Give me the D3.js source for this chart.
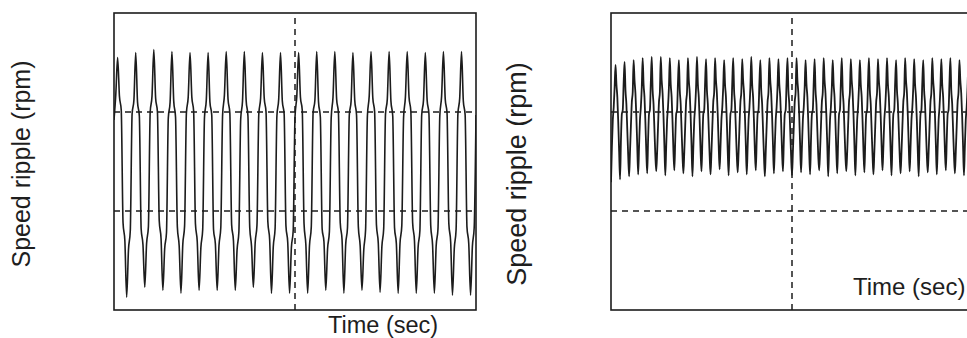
<!DOCTYPE html>
<html>
<head>
<meta charset="utf-8">
<script src="https://cdn.jsdelivr.net/npm/d3@7"></script>
<style>
  html, body { margin: 0; padding: 0; background: #fff; }
  svg { display: block; }
  text { font-family: "Liberation Sans", Arial, Helvetica, sans-serif; fill: #1e1e1e; }
</style>
</head>
<body>
<script>
// ---------------- DATA ----------------
// Time axis (ms) shared by both panels
const timeDomainMs = [0, 200];
const timeGridMs = [100];
// Speed ripple axis (rpm)
const rippleDomain = [-15, 15];
const rippleGrid = [-5, 5];

const xLabel = "Time (sec)";
const yLabel = "Speed ripple (rpm)";

// Left panel: sampled every 1 ms (one row = one 10 ms ripple cycle)
const leftStepMs = 1;
const leftRipple = [
  4.2, 6.8, 10.5, 6.6, 5.2, -6.2, -8.0, -13.7, -8.9, -7.0,
  4.8, 6.2, 11.0, 6.0, 4.6, -6.8, -8.4, -12.7, -8.3, -6.6,
  5.0, 6.6, 11.3, 6.4, 5.0, -6.0, -7.8, -13.0, -8.8, -7.2,
  4.4, 6.0, 11.1, 6.1, 4.5, -6.6, -8.5, -13.3, -8.4, -6.5,
  4.9, 6.5, 11.0, 6.5, 5.1, -6.3, -8.1, -13.0, -8.7, -6.9,
  4.5, 6.2, 11.0, 6.0, 4.7, -6.9, -8.3, -13.0, -8.5, -6.7,
  4.7, 6.7, 11.1, 6.3, 4.9, -6.4, -8.0, -13.0, -8.9, -7.1,
  4.3, 6.1, 11.1, 6.2, 4.6, -6.7, -8.6, -12.7, -8.2, -6.4,
  4.8, 6.4, 11.0, 6.4, 5.0, -6.1, -7.9, -13.3, -8.6, -6.8,
  4.6, 6.3, 11.0, 6.1, 4.8, -6.5, -8.2, -13.3, -8.7, -7.0,
  4.5, 6.6, 11.0, 6.5, 5.2, -6.3, -8.4, -13.3, -8.5, -6.6,
  4.9, 6.2, 11.1, 6.0, 4.5, -6.8, -8.1, -13.0, -8.8, -7.1,
  4.4, 6.5, 11.1, 6.3, 4.9, -6.2, -7.9, -13.3, -8.4, -6.7,
  4.7, 6.1, 11.0, 6.2, 4.7, -6.6, -8.5, -13.0, -8.9, -6.9,
  4.6, 6.6, 11.1, 6.4, 5.0, -6.4, -8.2, -13.2, -8.6, -6.8,
  4.8, 6.3, 11.1, 6.1, 4.6, -6.7, -8.3, -13.3, -8.3, -6.5,
  4.5, 6.5, 11.1, 6.5, 5.1, -6.2, -8.0, -13.3, -8.7, -7.0,
  4.7, 6.2, 11.0, 6.2, 4.8, -6.5, -8.4, -13.3, -8.5, -6.8,
  4.6, 6.6, 11.1, 6.3, 4.9, -6.3, -8.1, -13.5, -8.8, -6.9,
  4.8, 6.4, 11.1, 6.1, 4.7, -6.6, -8.3, -13.5, -8.6, -6.7,
  4.7
];

// Right panel: sampled every 0.5 ms (one row = one 5 ms ripple cycle)
const rightStepMs = 0.5;
const rightRipple = [
  -2.1, 1.5, 4.2, 5.5, 7.5, 9.75, 7.8, 6.5, 4.0, 1.0,
  -1.8, 2.2, 4.8, 5.2, 8.0, 10.05, 7.2, 5.8, 3.2, 0.6,
  -1.5, 1.0, 3.6, 6.0, 7.0, 10.25, 8.2, 6.9, 4.6, 1.6,
  -1.3, 1.5, 4.2, 5.5, 7.5, 10.45, 7.8, 6.5, 4.0, 1.0,
  -1.2, 2.2, 4.8, 5.2, 8.0, 10.56, 7.2, 5.8, 3.2, 0.6,
  -1.0, 1.0, 3.6, 6.0, 7.0, 10.56, 8.2, 6.9, 4.6, 1.6,
  -1.4, 1.5, 4.2, 5.5, 7.5, 10.45, 7.8, 6.5, 4.0, 1.0,
  -0.9, 2.2, 4.8, 5.2, 8.0, 10.25, 7.2, 5.8, 3.2, 0.6,
  -1.2, 1.0, 3.6, 6.0, 7.0, 10.45, 8.2, 6.9, 4.6, 1.6,
  -1.5, 1.5, 4.2, 5.5, 7.5, 10.56, 7.8, 6.5, 4.0, 1.0,
  -1.0, 2.2, 4.8, 5.2, 8.0, 10.35, 7.2, 5.8, 3.2, 0.6,
  -1.3, 1.0, 3.6, 6.0, 7.0, 10.45, 8.2, 6.9, 4.6, 1.6,
  -0.8, 1.5, 4.2, 5.5, 7.5, 10.25, 7.8, 6.5, 4.0, 1.0,
  -1.4, 2.2, 4.8, 5.2, 8.0, 10.45, 7.2, 5.8, 3.2, 0.6,
  -1.1, 1.0, 3.6, 6.0, 7.0, 10.35, 8.2, 6.9, 4.6, 1.6,
  -1.3, 1.5, 4.2, 5.5, 7.5, 10.56, 7.8, 6.5, 4.0, 1.0,
  -0.9, 2.2, 4.8, 5.2, 8.0, 10.25, 7.2, 5.8, 3.2, 0.6,
  -1.5, 1.0, 3.6, 6.0, 7.0, 10.45, 8.2, 6.9, 4.6, 1.6,
  -1.2, 1.5, 4.2, 5.5, 7.5, 10.35, 7.8, 6.5, 4.0, 1.0,
  -1.0, 2.2, 4.8, 5.2, 8.0, 10.45, 7.2, 5.8, 3.2, 0.6,
  -1.4, 1.0, 3.6, 6.0, 7.0, 10.45, 8.2, 6.9, 4.6, 1.6,
  -1.1, 1.5, 4.2, 5.5, 7.5, 10.25, 7.8, 6.5, 4.0, 1.0,
  -1.3, 2.2, 4.8, 5.2, 8.0, 10.35, 7.2, 5.8, 3.2, 0.6,
  -0.9, 1.0, 3.6, 6.0, 7.0, 10.45, 8.2, 6.9, 4.6, 1.6,
  -1.5, 1.5, 4.2, 5.5, 7.5, 10.25, 7.8, 6.5, 4.0, 1.0,
  -1.2, 2.2, 4.8, 5.2, 8.0, 10.45, 7.2, 5.8, 3.2, 0.6,
  -1.0, 1.0, 3.6, 6.0, 7.0, 10.35, 8.2, 6.9, 4.6, 1.6,
  -1.4, 1.5, 4.2, 5.5, 7.5, 10.25, 7.8, 6.5, 4.0, 1.0,
  -1.1, 2.2, 4.8, 5.2, 8.0, 10.45, 7.2, 5.8, 3.2, 0.6,
  -1.3, 1.0, 3.6, 6.0, 7.0, 10.35, 8.2, 6.9, 4.6, 1.6,
  -0.9, 1.5, 4.2, 5.5, 7.5, 10.45, 7.8, 6.5, 4.0, 1.0,
  -1.4, 2.2, 4.8, 5.2, 8.0, 10.25, 7.2, 5.8, 3.2, 0.6,
  -1.2, 1.0, 3.6, 6.0, 7.0, 10.45, 8.2, 6.9, 4.6, 1.6,
  -1.0, 1.5, 4.2, 5.5, 7.5, 10.35, 7.8, 6.5, 4.0, 1.0,
  -1.5, 2.2, 4.8, 5.2, 8.0, 10.25, 7.2, 5.8, 3.2, 0.6,
  -1.1, 1.0, 3.6, 6.0, 7.0, 10.45, 8.2, 6.9, 4.6, 1.6,
  -1.3, 1.5, 4.2, 5.5, 7.5, 10.35, 7.8, 6.5, 4.0, 1.0,
  -0.9, 2.2, 4.8, 5.2, 8.0, 10.45, 7.2, 5.8, 3.2, 0.6,
  -1.2, 1.0, 3.6, 6.0, 7.0, 10.25, 8.2, 6.9, 4.6, 1.6,
  -1.4, 1.5, 4.2, 5.5, 7.5, 10.35, 7.8, 6.5, 4.0, 1.0,
  -1.2
];

// ---------------- LAYOUT ----------------
const W = 967, H = 338;
const svg = d3.select("body").append("svg").attr("width", W).attr("height", H);

const panels = [
  { data: leftRipple, step: leftStepMs, left: 114, top: 13, width: 362, height: 297, lineW: 1.6,
    yLab: { x: 30, y: 164, size: 25 },
    xLab: { x: 328, y: 333, size: 23.5 } },
  { data: rightRipple, step: rightStepMs, left: 611, top: 13, width: 362, height: 297, lineW: 1.8,
    yLab: { x: 526, y: 174, size: 27 },
    xLab: { x: 853, y: 295, size: 24 } }
];

const ink = "#1c1c1c";

panels.forEach((p, pi) => {
  const x = d3.scaleLinear().domain(timeDomainMs).range([p.left, p.left + p.width]);
  const y = d3.scaleLinear().domain(rippleDomain).range([p.top + p.height, p.top]);

  const g = svg.append("g");
  const clipId = "clip" + pi;
  g.append("clipPath").attr("id", clipId)
    .append("rect").attr("x", p.left).attr("y", p.top)
    .attr("width", p.width).attr("height", p.height);

  // dashed grid
  g.selectAll(".hgrid").data(rippleGrid).enter().append("line")
    .attr("x1", x(timeDomainMs[0])).attr("x2", x(timeDomainMs[1]))
    .attr("y1", d => y(d)).attr("y2", d => y(d))
    .attr("stroke", ink).attr("stroke-width", 1.5).attr("stroke-dasharray", "6,5");
  g.selectAll(".vgrid").data(timeGridMs).enter().append("line")
    .attr("x1", d => x(d)).attr("x2", d => x(d))
    .attr("y1", y(rippleDomain[0])).attr("y2", y(rippleDomain[1]))
    .attr("stroke", ink).attr("stroke-width", 1.5).attr("stroke-dasharray", "6,5");

  // signal
  const line = d3.line()
    .x((d, i) => x(i * p.step))
    .y(d => y(d))
    .curve(d3.curveMonotoneX);
  g.append("path").datum(p.data)
    .attr("clip-path", `url(#${clipId})`)
    .attr("d", line)
    .attr("fill", "none").attr("stroke", ink)
    .attr("stroke-width", p.lineW).attr("stroke-linejoin", "round");

  // frame
  g.append("rect").attr("x", p.left).attr("y", p.top)
    .attr("width", p.width).attr("height", p.height)
    .attr("fill", "none").attr("stroke", ink).attr("stroke-width", 1.6);

  // labels
  g.append("text").attr("x", p.xLab.x).attr("y", p.xLab.y)
    .attr("font-size", p.xLab.size).text(xLabel);
  g.append("text")
    .attr("transform", `translate(${p.yLab.x},${p.yLab.y}) rotate(-90)`)
    .attr("text-anchor", "middle").attr("font-size", p.yLab.size).text(yLabel);
});
</script>
</body>
</html>
